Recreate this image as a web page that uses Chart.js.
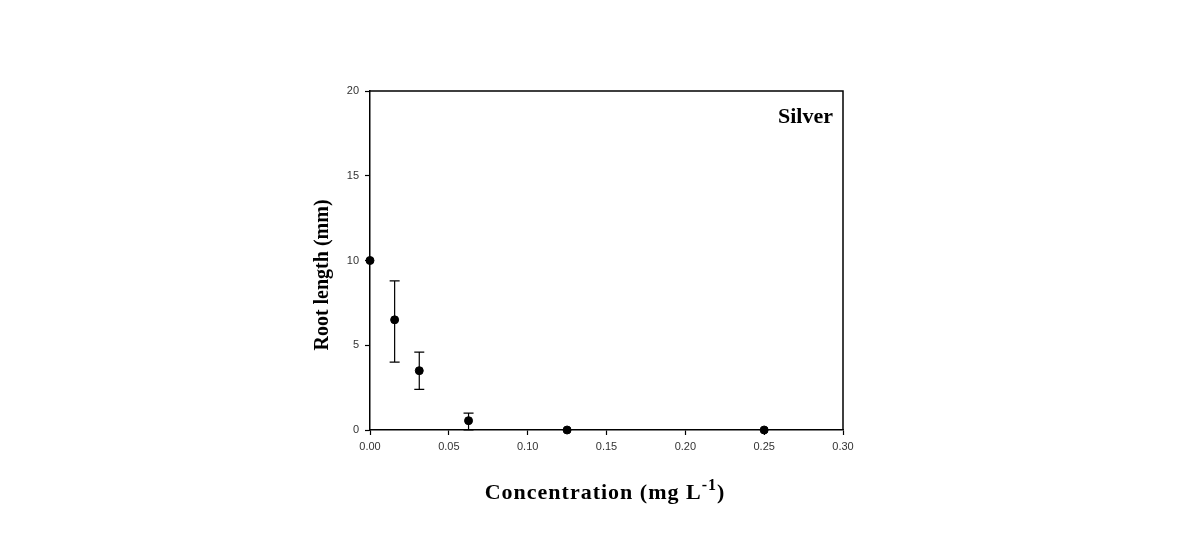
<!doctype html>
<html>
<head>
<meta charset="UTF-8">
<script src="https://cdn.jsdelivr.net/npm/chart.js"></script>
<style>
  html, body { margin: 0; padding: 0; background: #fff; }
  canvas { display: block; }
</style>
</head>
<body>
<canvas id="chart" width="1190" height="542"></canvas>
<script>
// data
const concentration = [0, 0.015625, 0.03125, 0.0625, 0.125, 0.25];
const rootLength = [10, 6.5, 3.5, 0.55, 0, 0];
const errTop = [10, 8.8, 4.6, 1.0, 0, 0];
const errBottom = [10, 4.0, 2.4, 0.0, 0, 0];
const xTicks = [0, 0.05, 0.10, 0.15, 0.20, 0.25, 0.30];
const yTicks = [0, 5, 10, 15, 20];

const serif = "'Liberation Serif', 'Times New Roman', serif";
const sans = "'Liberation Sans', Arial, sans-serif";

// error bars, frame, panel label and axis titles
const extras = {
  id: "extras",
  afterDatasetsDraw(chart) {
    const { ctx, chartArea: a, scales: { x, y } } = chart;
    ctx.save();
    ctx.strokeStyle = "#000";
    ctx.lineWidth = 1.2;
    concentration.forEach((c, i) => {
      if (errTop[i] === errBottom[i]) return;
      const px = x.getPixelForValue(c);
      const t = y.getPixelForValue(errTop[i]);
      const b = y.getPixelForValue(errBottom[i]);
      ctx.beginPath();
      ctx.moveTo(px, t); ctx.lineTo(px, b);
      ctx.moveTo(px - 5, t); ctx.lineTo(px + 5, t);
      ctx.moveTo(px - 5, b); ctx.lineTo(px + 5, b);
      ctx.stroke();
    });
    // box
    ctx.lineWidth = 1.5;
    ctx.beginPath();
    ctx.moveTo(a.left, a.top); ctx.lineTo(a.right, a.top); ctx.lineTo(a.right, a.bottom);
    ctx.stroke();
    // panel label
    ctx.fillStyle = "#000";
    ctx.font = "bold 22px " + serif;
    ctx.textAlign = "right";
    ctx.textBaseline = "alphabetic";
    ctx.fillText("Silver", a.right - 10, 123);

    // y axis title
    ctx.save();
    ctx.translate(328, 275);
    ctx.rotate(-Math.PI / 2);
    ctx.textAlign = "center";
    ctx.font = "bold 20px " + serif;
    ctx.fillText("Root length (mm)", 0, 0);
    ctx.restore();

    // x axis title with superscript
    ctx.letterSpacing = "1px";
    const main = "Concentration (mg L";
    const sup = "-1";
    const end = ")";
    const f1 = "bold 22px " + serif, f2 = "bold 16px " + serif;
    ctx.font = f1; const w1 = ctx.measureText(main).width, w3 = ctx.measureText(end).width;
    ctx.font = f2; const w2 = ctx.measureText(sup).width;
    let sx = 605 - (w1 + w2 + w3) / 2;
    const base = 499;
    ctx.textAlign = "left";
    ctx.font = f1; ctx.fillText(main, sx, base);
    ctx.font = f2; ctx.fillText(sup, sx + w1, base - 9);
    ctx.font = f1; ctx.fillText(end, sx + w1 + w2, base);
    ctx.restore();
  }
};

new Chart(document.getElementById("chart").getContext("2d"), {
  type: "scatter",
  data: {
    datasets: [{
      data: concentration.map((c, i) => ({ x: c, y: rootLength[i] })),
      backgroundColor: "#000",
      borderColor: "#000",
      pointRadius: 4,
      pointHoverRadius: 4,
      clip: false
    }]
  },
  options: {
    responsive: false,
    animation: false,
    events: [],
    layout: { padding: { left: 300, top: 91, right: 347, bottom: 82 } },
    plugins: { legend: { display: false }, tooltip: { enabled: false } },
    scales: {
      x: {
        type: "linear",
        min: 0, max: 0.3,
        afterBuildTicks: (s) => { s.ticks = xTicks.map(v => ({ value: v })); },
        afterFit: (s) => { s.height = 30; },
        border: { color: "#000", width: 1.5 },
        grid: { drawOnChartArea: false, tickLength: 5, tickColor: "#000", tickWidth: 1.2 },
        ticks: { color: "#333", font: { family: sans, size: 11 }, padding: 5,
                 callback: (v) => v.toFixed(2) }
      },
      y: {
        type: "linear",
        min: 0, max: 20,
        afterBuildTicks: (s) => { s.ticks = yTicks.map(v => ({ value: v })); },
        afterFit: (s) => { s.width = 70; },
        border: { color: "#000", width: 1.5 },
        grid: { drawOnChartArea: false, tickLength: 5, tickColor: "#000", tickWidth: 1.2 },
        ticks: { color: "#333", font: { family: sans, size: 11 }, padding: 6 }
      }
    }
  },
  plugins: [extras]
});
</script>
</body>
</html>
